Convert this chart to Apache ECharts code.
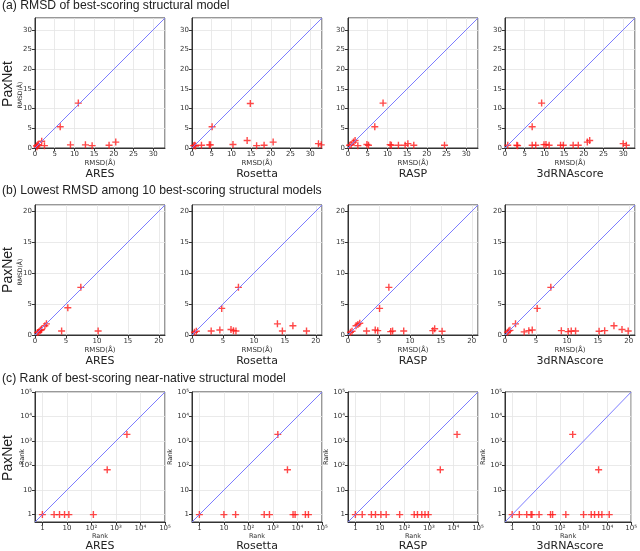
<!DOCTYPE html>
<html>
<head>
<meta charset="utf-8">
<script src="https://cdn.jsdelivr.net/npm/echarts@6/dist/echarts.min.js"></script>
<style>
html, body { margin: 0; padding: 0; background: #fff; }
#chart { width: 640px; height: 551px; }
</style>
</head>
<body>
<div id="chart"></div>
<script>
// scoring functions compared with PaxNet (one column each)
var methods = ['ARES', 'Rosetta', 'RASP', '3dRNAscore'];

// (a) RMSD of best-scoring model: [method RMSD, PaxNet RMSD]
var bestAres = [[0.5, 0.3], [0.4, 0.6], [0.7, 0.85], [0.9, 0.7], [1.7, 1.7], [2.4, 0.6], [6.4, 5.4], [9.0, 0.8], [11.0, 11.4], [12.8, 0.8], [14.5, 0.6], [18.8, 0.7], [20.5, 1.5]];
var bestRosetta = [[0.4, 0.6], [0.7, 0.7], [0.9, 0.5], [2.4, 0.7], [4.4, 0.8], [4.7, 0.8], [5.1, 5.4], [10.4, 0.9], [14.0, 1.9], [14.8, 11.3], [16.4, 0.6], [18.3, 0.7], [20.6, 1.5], [32.1, 1.1], [32.8, 0.8]];
var bestRasp = [[0.4, 0.7], [0.8, 0.85], [1.4, 1.5], [1.8, 1.9], [2.5, 0.6], [4.8, 0.9], [5.2, 0.7], [6.8, 5.4], [8.9, 11.4], [10.7, 0.85], [11.0, 0.7], [12.8, 0.7], [14.5, 0.7], [15.2, 1.1], [16.7, 0.7], [24.5, 0.7]];
var best3dRNA = [[0.7, 0.7], [3.0, 0.7], [3.2, 0.6], [6.9, 5.4], [6.9, 0.7], [7.8, 0.7], [9.3, 11.4], [9.9, 0.85], [10.4, 0.9], [11.2, 0.7], [14.1, 0.7], [14.8, 0.7], [17.3, 0.7], [18.6, 0.7], [20.9, 1.5], [21.5, 1.9], [30.0, 1.1], [30.8, 0.7]];

// (b) lowest RMSD among top 10
var top10Ares = [[0.4, 0.4], [0.6, 0.5], [0.8, 0.7], [0.95, 0.8], [1.05, 0.9], [1.6, 1.5], [1.85, 1.8], [4.3, 0.65], [5.3, 4.4], [7.4, 7.7], [10.2, 0.65]];
var top10Rosetta = [[0.4, 0.45], [0.7, 0.6], [3.1, 0.65], [4.5, 0.8], [4.8, 4.3], [6.3, 0.9], [6.7, 0.7], [7.1, 0.65], [7.5, 7.7], [13.8, 1.8], [14.6, 0.65], [16.3, 1.5], [18.5, 0.65]];
var top10Rasp = [[0.4, 0.45], [0.65, 0.6], [1.3, 1.5], [1.6, 1.7], [1.9, 1.9], [3.0, 0.65], [4.4, 0.8], [4.8, 0.7], [5.1, 4.3], [6.6, 7.7], [6.9, 0.55], [7.2, 0.65], [9.0, 0.65], [13.7, 0.7], [14.0, 1.0], [15.2, 0.6]];
var top103dRNA = [[0.4, 0.45], [0.6, 0.65], [0.8, 0.75], [1.7, 1.8], [3.1, 0.5], [3.85, 0.7], [4.4, 0.8], [5.2, 4.3], [7.4, 7.7], [9.1, 0.7], [10.2, 0.55], [10.7, 0.65], [11.4, 0.65], [15.2, 0.6], [16.1, 0.7], [17.6, 1.5], [18.9, 0.9], [19.9, 0.65]];

// (c) rank of best-scoring near-native model
var rankAres = [[1, 1], [3, 1], [5, 1], [8, 1], [12, 1], [120, 1], [440, 68], [2800, 1870]];
var rankRosetta = [[1, 1], [10, 1], [30, 1], [440, 1], [720, 1], [1580, 1870], [3900, 68], [6600, 1], [8000, 1], [21000, 1], [28000, 1]];
var rankRasp = [[1, 1], [1.9, 1], [4.5, 1], [6.6, 1], [11, 1], [18, 1], [64, 1], [250, 1], [340, 1], [510, 1], [690, 1], [940, 1], [2900, 68], [14000, 1870]];
var rank3dRNA = [[1, 1], [2, 1], [4.1, 1], [6.2, 1], [6.8, 1], [13.5, 1], [41, 1], [50, 1], [180, 1], [1000, 1], [2100, 1], [2900, 1], [4300, 1], [5900, 1], [12000, 1], [350, 1870], [4300, 68]];

var rowTitles = ['(a) RMSD of best-scoring structural model', '(b) Lowest RMSD among 10 best-scoring structural models', '(c) Rank of best-scoring near-native structural model'];
var rowData = [
	[bestAres, bestRosetta, bestRasp, best3dRNA],
	[top10Ares, top10Rosetta, top10Rasp, top103dRNA],
	[rankAres, rankRosetta, rankRasp, rank3dRNA]
];
var rowRange = [[0, 33], [0, 21], [0.5, 100000]];
var rowAxisName = ['RMSD(Å)', 'RMSD(Å)', 'Rank'];
var supDigits = { 2: '²', 3: '³', 4: '⁴', 5: '⁵' };

var colLeft = [35, 192, 348, 505];
var rowTop = [18, 205, 392];
var boxSize = 130;

var tickFont = 'DejaVu Sans';
var plusPath = 'path://M4,0H6V4H10V6H6V10H4V6H0V4H4Z';
var diagColor = '#7c7cff';

function logLabel(v) {
	var p = Math.round(Math.log10(v));
	if (Math.abs(Math.log10(v) - p) > 0.01) return '';
	if (p === 0) return '1';
	if (p === 1) return '10';
	return '10' + supDigits[p];
}

function makeAxis(r, c, isY) {
	var isLog = r === 2;
	var ax = {
		type : isLog ? 'log' : 'value',
		gridIndex : r * 4 + c,
		min : rowRange[r][0],
		max : rowRange[r][1],
		axisLine : { show : true, onZero : false, lineStyle : { color : '#333', width : 1 } },
		axisTick : { show : true, length : 3, lineStyle : { color : '#333' } },
		axisLabel : {
			fontSize : 7,
			fontFamily : tickFont,
			color : '#333',
			margin : 3,
			showMaxLabel : isLog,
			showMinLabel : !isLog
		},
		splitLine : { show : true, lineStyle : { color : '#e4e4e4', width : 0.8 } }
	};
	if (isLog) {
		ax.logBase = 10;
		ax.axisLabel.formatter = logLabel;
	} else {
		ax.interval = 5;
	}
	if (!isY) {
		ax.name = rowAxisName[r];
		ax.nameLocation = 'middle';
		ax.nameGap = isLog ? 11 : 12;
		ax.nameTextStyle = { fontSize : isLog ? 6.5 : 7, fontFamily : tickFont, color : '#333' };
	}
	return ax;
}

function sideText(txt, x, y, size, font) {
	return {
		type : 'text', x : x, y : y, rotation : Math.PI / 2,
		style : { text : txt, fontSize : size, fontFamily : font, fill : '#222', align : 'center', verticalAlign : 'middle' }
	};
}

var grids = [], xAxes = [], yAxes = [], series = [], graphics = [];
var labelY = [174, 361, 546];
var paxY = [84, 270, 458];
var titleY = [7, 192, 380];
var yNameY = [95, 272, 457];

for (var r = 0; r < 3; r++) {
	graphics.push({
		type : 'text', left : 2, top : titleY[r] - 7,
		style : { text : rowTitles[r], fontSize : 12.2, fontFamily : 'Liberation Sans', fill : '#222' }
	});
	graphics.push(sideText('PaxNet', 8, paxY[r], 14, 'Liberation Sans'));
	for (var c = 0; c < 4; c++) {
		var idx = r * 4 + c;
		var lo = rowRange[r][0], hi = rowRange[r][1];
		grids.push({
			left : colLeft[c], top : rowTop[r], width : boxSize, height : boxSize,
			show : true, borderColor : '#333', borderWidth : 1, backgroundColor : '#fff'
		});
		xAxes.push(makeAxis(r, c, false));
		yAxes.push(makeAxis(r, c, true));
		series.push({
			type : 'scatter',
			xAxisIndex : idx, yAxisIndex : idx,
			data : rowData[r][c],
			symbol : plusPath,
			symbolSize : 7,
			itemStyle : { color : '#ff1a1a' },
			// y = x reference line across the axis range
			markLine : {
				silent : true,
				symbol : 'none',
				animation : false,
				label : { show : false },
				lineStyle : { color : diagColor, width : 1, type : 'solid', opacity : 1 },
				data : [[{ coord : [lo, lo] }, { coord : [hi, hi] }]]
			},
			z : 3
		});
		// y axis names: only first column for RMSD rows, every column for rank row
		if (r === 2) {
			graphics.push(sideText(rowAxisName[r], c === 0 ? 22 : colLeft[c] - 22, yNameY[r], 6.5, tickFont));
		} else if (c === 0) {
			graphics.push(sideText(rowAxisName[r], 20, yNameY[r], 6, tickFont));
		}
		graphics.push({
			type : 'text', x : colLeft[c] + boxSize / 2, y : labelY[r],
			style : { text : methods[c], fontSize : 11, fontFamily : tickFont, fill : '#222', align : 'center', verticalAlign : 'middle' }
		});
	}
}

var chart = echarts.init(document.getElementById('chart'));
chart.setOption({
	animation : false,
	backgroundColor : '#fff',
	grid : grids,
	xAxis : xAxes,
	yAxis : yAxes,
	series : series,
	graphic : graphics
});
</script>
</body>
</html>
